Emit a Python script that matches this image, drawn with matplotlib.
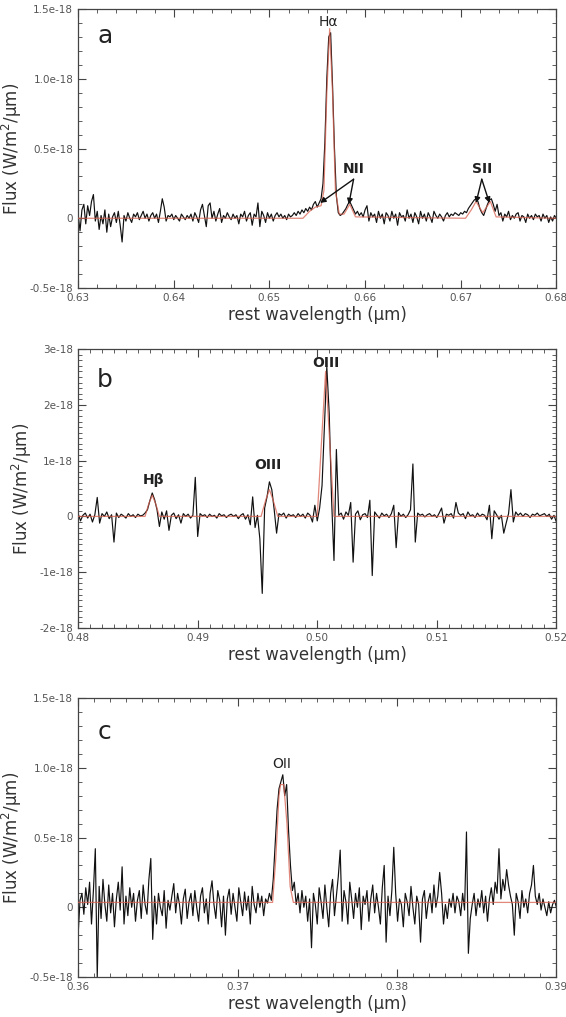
import numpy as np
import matplotlib
matplotlib.use("Agg")
import matplotlib.pyplot as plt
from matplotlib.ticker import MultipleLocator

# ---------------- Panel a : H-alpha region (flux in units of 1e-18 W/m2/um) ----------------
wl_a_start, wl_a_step = 0.630, 0.0002
flux_a = [
    0.03, -0.09, 0.06, 0.10, -0.04, 0.09, 0.02, 0.12, 0.17, -0.02,
    0.05, -0.08, 0.02, -0.04, 0.06, -0.10, 0.03, -0.06, 0.01, 0.04,
    -0.03, 0.05, -0.05, -0.17, 0.02, -0.02, 0.04, 0.00, -0.03, 0.03,
    0.01, 0.04, -0.01, 0.02, 0.05, 0.00, 0.03, -0.02, 0.02, 0.04,
    0.00, 0.03, -0.03, 0.05, 0.14, 0.08, -0.02, 0.02, 0.01, 0.03,
    -0.01, 0.02, 0.00, -0.02, 0.03, 0.01, -0.01, 0.02, 0.00, 0.03,
    -0.02, 0.04, 0.01, -0.03, 0.06, 0.10, 0.02, -0.06, 0.09, 0.11,
    0.00, 0.05, -0.02, 0.03, 0.07, -0.03, 0.02, 0.00, 0.04, 0.01,
    -0.01, 0.03, 0.00, 0.02, -0.04, 0.03, 0.01, 0.05, -0.02, 0.02,
    0.04, -0.05, 0.03, 0.01, 0.11, -0.06, 0.05, 0.02, -0.03, 0.04,
    0.00, 0.03, -0.02, 0.02, 0.04, 0.01, 0.03, 0.00, 0.02, -0.01,
    0.03, 0.01, 0.02, 0.04, 0.02, 0.05, 0.03, 0.06, 0.04, 0.07,
    0.05, 0.08, 0.06, 0.10, 0.12, 0.08, 0.11, 0.14, 0.25, 0.55,
    1.00, 1.30, 1.33, 0.95, 0.50, 0.16, 0.04, 0.02, 0.03, 0.05,
    0.07, 0.10, 0.12, 0.09, 0.06, 0.03, 0.05, 0.02, 0.04, 0.01,
    0.06, 0.09, -0.02, 0.04, 0.01, 0.03, -0.03, 0.05, 0.00, 0.03,
    -0.04, 0.04, 0.02, -0.02, 0.05, 0.00, 0.03, -0.05, 0.04, 0.01,
    0.02, -0.02, 0.06, 0.00, 0.03, -0.03, 0.04, 0.01, -0.04, 0.05,
    0.00, 0.03, -0.02, 0.04, 0.01, -0.03, 0.05, 0.02, 0.00, 0.03,
    0.01, -0.02, 0.02, 0.04, 0.01, 0.03, 0.02, 0.04, 0.03, 0.02,
    0.04, 0.03, 0.05, 0.04, 0.07, 0.09, 0.11, 0.13, 0.14, 0.12,
    0.07, 0.04, 0.02, 0.06, 0.10, 0.13, 0.14, 0.10, 0.05, 0.10,
    0.02, 0.04, -0.02, 0.03, 0.01, 0.05, -0.01, 0.02, 0.00, 0.03,
    0.04, -0.02, 0.02, 0.01, -0.03, 0.03, 0.00, 0.02, -0.01, 0.03,
    0.01, 0.02, -0.02, 0.03, 0.00, 0.02, -0.03, 0.01, -0.02, 0.02,
    0.00,
]
model_a_wl = [0.630, 0.6535, 0.6542, 0.6548, 0.6554, 0.6557, 0.6560, 0.6563,
              0.6566, 0.6569, 0.6573, 0.6578, 0.6584, 0.6590, 0.6705,
              0.6711, 0.6716, 0.6723, 0.6731, 0.6737, 0.680]
model_a_flux = [0.0, 0.0, 0.05, 0.08, 0.09, 0.20, 0.90, 1.36,
                0.90, 0.20, 0.03, 0.03, 0.10, 0.01, 0.0,
                0.06, 0.12, 0.04, 0.12, 0.01, 0.0]

# ---------------- Panel b : H-beta / [OIII] region ----------------
wl_b_start, wl_b_step = 0.480, 0.0002
flux_b = [
    0.05, -0.08, 0.02, 0.06, -0.03, 0.04, -0.10, 0.03, 0.34, -0.12,
    0.05, 0.00, 0.08, -0.04, 0.03, -0.46, 0.06, -0.02, 0.04, 0.01,
    -0.03, 0.05, 0.00, 0.03, -0.02, 0.04, 0.01, 0.02, 0.06, 0.12,
    0.28, 0.42, 0.30, 0.12, -0.18, 0.08, -0.05, 0.10, -0.25, 0.02,
    0.06, -0.04, 0.03, -0.12, 0.05, 0.00, 0.04, -0.03, 0.02, 0.70,
    -0.36, 0.05, 0.01, 0.03, -0.02, 0.04, 0.00, 0.02, -0.03, 0.05,
    0.01, 0.03, -0.02, 0.02, 0.04, 0.00, 0.03, -0.04, 0.02, 0.05,
    -0.05, 0.03, -0.15, 0.35, -0.20, 0.02, -0.40, -1.38, 0.15, 0.35,
    0.62, 0.48, 0.12, -0.30, 0.05, 0.02, 0.06, -0.03, 0.04, 0.01,
    0.03, -0.02, 0.05, 0.00, 0.04, -0.03, 0.06, 0.02, -0.10, 0.20,
    -0.08, 0.15, 0.55, 1.60, 2.68, 1.85, 0.30, -0.79, 1.20, 0.02,
    0.06, -0.05, 0.08, 0.02, 0.25, -0.82, 0.04, 0.10, -0.06, 0.03,
    0.05, -0.02, 0.29, -1.06, 0.08, 0.02, -0.03, 0.06, 0.01, 0.04,
    -0.02, 0.05, 0.20, -0.56, 0.07, 0.00, 0.04, -0.02, 0.03, 0.12,
    0.94, -0.46, 0.06, 0.02, 0.04, -0.01, 0.03, 0.05, 0.00, 0.03,
    -0.02, 0.06, 0.15, -0.12, 0.04, 0.02, 0.05, -0.03, 0.25, 0.06,
    0.02, 0.05, -0.04, 0.08, 0.01, 0.03, -0.02, 0.06, 0.00, 0.04,
    0.02, -0.06, 0.20, -0.40, 0.10, 0.03, -0.05, 0.02, -0.30, -0.12,
    0.05, 0.48, -0.10, 0.08, 0.02, 0.06, 0.00, 0.05, 0.03, -0.02,
    0.04, 0.02, 0.06, 0.01, 0.03, 0.05, 0.00, 0.04, -0.05, 0.02,
    -0.10,
]
model_b_wl = [0.480, 0.4856, 0.4859, 0.4862, 0.4865, 0.4868, 0.4953, 0.4957,
              0.4960, 0.4963, 0.4967, 0.5000, 0.5004, 0.5007, 0.5010,
              0.5014, 0.520]
model_b_flux = [0.0, 0.0, 0.22, 0.38, 0.22, 0.0, 0.0, 0.30,
                0.48, 0.30, 0.0, 0.0, 1.50, 2.60, 1.50,
                0.0, 0.0]

# ---------------- Panel c : [OII] region ----------------
wl_c_start, wl_c_step = 0.360, 0.00012
flux_c = [
    -0.20, 0.05, 0.10, -0.05, 0.14, 0.02, 0.18, -0.12, 0.12, 0.42,
    -0.50, 0.15, -0.08, 0.20, 0.02, -0.10, 0.16, -0.04, 0.10, -0.14,
    0.06, 0.18, -0.02, 0.29, -0.12, 0.08, -0.06, 0.14, 0.00, 0.10,
    -0.10, 0.05, 0.12, -0.08, 0.16, 0.02, -0.05, 0.20, 0.35, -0.23,
    0.08, -0.12, 0.10, 0.00, -0.06, 0.12, -0.15, 0.05, -0.02, 0.08,
    0.17, -0.04, 0.10, 0.02, -0.12, 0.06, 0.13, -0.08, 0.04, 0.10,
    -0.06, 0.12, 0.00, -0.10, 0.08, 0.14, -0.04, 0.06, -0.12, 0.10,
    0.19, 0.02, -0.08, 0.12, 0.05, -0.14, 0.08, -0.20, 0.06, 0.13,
    -0.05, 0.10, 0.00, -0.10, 0.14, 0.04, -0.06, 0.11, -0.02, 0.08,
    -0.12, 0.15, 0.02, -0.04, 0.10, 0.00, 0.08, -0.06, 0.06, 0.03,
    0.10, 0.05, 0.20, 0.45, 0.70, 0.85, 0.90, 0.95, 0.80, 0.88,
    0.55, 0.30, 0.12, 0.18, 0.02, 0.10, -0.04, 0.12, 0.00, 0.08,
    -0.10, 0.06, -0.29, 0.10, 0.02, -0.12, 0.14, 0.04, -0.08, 0.16,
    0.00, -0.14, 0.10, 0.20, -0.06, 0.08, 0.22, 0.41, -0.10, 0.12,
    0.04, -0.12, 0.18, 0.06, -0.08, 0.10, 0.00, 0.14, -0.16, 0.08,
    0.02, 0.12, -0.10, 0.06, 0.16, -0.04, 0.10, 0.00, -0.12, 0.14,
    0.30, -0.25, 0.08, -0.06, 0.12, 0.43, 0.10, -0.10, 0.06, 0.02,
    -0.14, 0.10, 0.04, -0.06, 0.15, 0.00, -0.12, 0.08, 0.02, -0.25,
    0.06, 0.12, -0.08, 0.04, 0.10, -0.04, 0.16, 0.00, 0.08, 0.25,
    0.10, -0.12, 0.02, -0.08, 0.06, 0.00, 0.10, -0.04, 0.08, 0.04,
    -0.06, 0.10, -0.02, 0.54, -0.33, -0.08, 0.02, 0.10, -0.06, 0.06,
    0.00, 0.12, -0.04, 0.08, -0.10, 0.06, 0.14, 0.02, 0.18, 0.10,
    0.42, 0.06, 0.20, 0.12, 0.27, 0.16, 0.08, 0.02, -0.20, 0.10,
    0.04, -0.08, 0.12, 0.00, 0.06, -0.04, 0.10, 0.16, 0.30, 0.08,
    0.02, 0.10, -0.02, 0.06, 0.00, -0.06, 0.04, -0.04, 0.02, 0.05,
    0.00,
]
model_c_wl = [0.360, 0.3722, 0.3724, 0.3726, 0.3727, 0.3729, 0.3731, 0.3733, 0.3735, 0.390]
model_c_flux = [0.035, 0.035, 0.35, 0.80, 0.88, 0.88, 0.60, 0.15, 0.035, 0.035]

# ---------------- axis settings ----------------
xlim_a, xticks_a = (0.63, 0.68), [0.63, 0.64, 0.65, 0.66, 0.67, 0.68]
xticklabels_a = ["0.63", "0.64", "0.65", "0.66", "0.67", "0.68"]
ylim_a, yticks_a = (-0.5, 1.5), [-0.5, 0.0, 0.5, 1.0, 1.5]
yticklabels_a = ["-0.5e-18", "0", "0.5e-18", "1.0e-18", "1.5e-18"]

xlim_b, xticks_b = (0.48, 0.52), [0.48, 0.49, 0.50, 0.51, 0.52]
xticklabels_b = ["0.48", "0.49", "0.50", "0.51", "0.52"]
ylim_b, yticks_b = (-2.0, 3.0), [-2, -1, 0, 1, 2, 3]
yticklabels_b = ["-2e-18", "-1e-18", "0", "1e-18", "2e-18", "3e-18"]

xlim_c, xticks_c = (0.36, 0.39), [0.36, 0.37, 0.38, 0.39]
xticklabels_c = ["0.36", "0.37", "0.38", "0.39"]
ylim_c, yticks_c = (-0.5, 1.5), [-0.5, 0.0, 0.5, 1.0, 1.5]
yticklabels_c = ["-0.5e-18", "0", "0.5e-18", "1.0e-18", "1.5e-18"]

SPEC_COLOR = "#111111"
MODEL_COLOR = "#d9604f"
TEXT_COLOR = "#333333"
TICK_COLOR = "#555555"

fig = plt.figure(figsize=(5.66, 10.17), dpi=100)
left, width, height = 0.138, 0.845, 0.2743
ax_a = fig.add_axes([left, 0.7168, width, height])
ax_b = fig.add_axes([left, 0.3825, width, height])
ax_c = fig.add_axes([left, 0.0393, width, height])


def wavelengths(start, step, n):
    return start + step * np.arange(n)


def style_axes(ax, xlim, xticks, xlabels, xminor, ylim, yticks, ylabels, yminor):
    ax.set_xlim(*xlim)
    ax.set_ylim(*ylim)
    ax.set_xticks(xticks)
    ax.set_xticklabels(xlabels)
    ax.set_yticks(yticks)
    ax.set_yticklabels(ylabels)
    ax.xaxis.set_minor_locator(MultipleLocator(xminor))
    ax.yaxis.set_minor_locator(MultipleLocator(yminor))
    ax.tick_params(which="both", direction="in", top=True, right=True,
                   colors="#444444", labelcolor=TICK_COLOR, labelsize=7.5)
    ax.tick_params(which="major", length=6, width=0.8)
    ax.tick_params(which="minor", length=3, width=0.6)
    for sp in ax.spines.values():
        sp.set_color("#444444")
        sp.set_linewidth(0.9)
    ax.set_xlabel("rest wavelength (\u03bcm)", fontsize=12, color=TEXT_COLOR, labelpad=2)
    ax.set_ylabel("Flux (W/m$^2$/\u03bcm)", fontsize=12, color=TEXT_COLOR, labelpad=4)


def draw_spectrum(ax, start, step, flux, mwl, mflux):
    wl = wavelengths(start, step, len(flux))
    ax.plot(wl, flux, color=SPEC_COLOR, lw=0.85, zorder=2)
    ax.plot(mwl, mflux, color=MODEL_COLOR, lw=0.9, alpha=0.75, zorder=3)


# panel a
draw_spectrum(ax_a, wl_a_start, wl_a_step, flux_a, model_a_wl, model_a_flux)
style_axes(ax_a, xlim_a, xticks_a, xticklabels_a, 0.002, ylim_a, yticks_a, yticklabels_a, 0.1)
ax_a.text(0.6320, 1.31, "a", fontsize=18, color="#222222", va="center", ha="left")
ax_a.text(0.6562, 1.36, "H\u03b1", fontsize=10, color="#222222", ha="center", va="bottom")
ax_a.text(0.6588, 0.30, "NII", fontsize=10, fontweight="bold", color="#222222", ha="center", va="bottom")
ax_a.text(0.6722, 0.30, "SII", fontsize=10, fontweight="bold", color="#222222", ha="center", va="bottom")
arrow = dict(arrowstyle="-|>", color="#111111", lw=1.0, mutation_scale=8, shrinkA=0, shrinkB=0)
for tip in [(0.6553, 0.11), (0.6583, 0.10)]:
    ax_a.annotate("", xy=tip, xytext=(0.6588, 0.28), arrowprops=arrow)
for tip in [(0.6716, 0.11), (0.6730, 0.11)]:
    ax_a.annotate("", xy=tip, xytext=(0.6722, 0.28), arrowprops=arrow)

# panel b
draw_spectrum(ax_b, wl_b_start, wl_b_step, flux_b, model_b_wl, model_b_flux)
style_axes(ax_b, xlim_b, xticks_b, xticklabels_b, 0.001, ylim_b, yticks_b, yticklabels_b, 0.1)
ax_b.text(0.4816, 2.45, "b", fontsize=18, color="#222222", va="center", ha="left")
ax_b.text(0.5007, 2.62, "OIII", fontsize=10, fontweight="bold", color="#222222", ha="center", va="bottom")
ax_b.text(0.4959, 0.80, "OIII", fontsize=10, fontweight="bold", color="#222222", ha="center", va="bottom")
ax_b.text(0.4863, 0.52, "H\u03b2", fontsize=10, fontweight="bold", color="#222222", ha="center", va="bottom")

# panel c
draw_spectrum(ax_c, wl_c_start, wl_c_step, flux_c, model_c_wl, model_c_flux)
style_axes(ax_c, xlim_c, xticks_c, xticklabels_c, 0.001, ylim_c, yticks_c, yticklabels_c, 0.1)
ax_c.text(0.3612, 1.26, "c", fontsize=18, color="#222222", va="center", ha="left")
ax_c.text(0.37275, 0.98, "OII", fontsize=10, color="#222222", ha="center", va="bottom")

fig.savefig("out.png", dpi=100, facecolor="white")
